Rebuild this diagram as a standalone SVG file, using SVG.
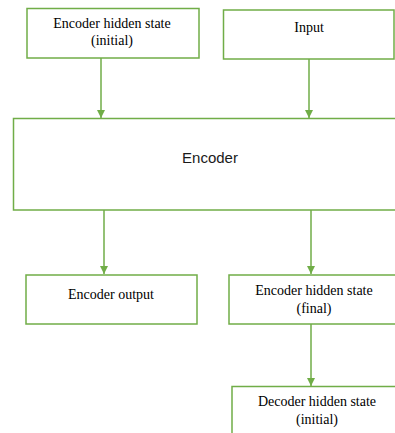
<svg xmlns="http://www.w3.org/2000/svg" width="395" height="433" viewBox="0 0 395 433">
<style>
.box{fill:#ffffff;stroke:#70AD47;stroke-width:1.5}
.conn{stroke:#70AD47;stroke-width:1.5;fill:none}
.t{font-family:"Liberation Serif","Times New Roman",serif;font-size:14px;fill:#000000;text-anchor:middle}
.s{font-family:"Liberation Sans",Arial,sans-serif;font-size:15px;fill:#1a1a1a;text-anchor:middle}
</style>
<defs>
<marker id="arr" viewBox="0 0 10 10" refX="10" refY="5" markerWidth="8" markerHeight="9" markerUnits="userSpaceOnUse" orient="auto">
<path d="M0,0 L10,5 L0,10 z" fill="#70AD47"/>
</marker>
</defs>
<rect width="395" height="433" fill="#ffffff"/>
<g id="connectors">
<line class="conn" x1="101" y1="58" x2="101" y2="118" marker-end="url(#arr)"/>
<line class="conn" x1="309" y1="59" x2="309" y2="118" marker-end="url(#arr)"/>
<line class="conn" x1="104" y1="210" x2="104" y2="274" marker-end="url(#arr)"/>
<line class="conn" x1="311" y1="210" x2="311" y2="274" marker-end="url(#arr)"/>
<line class="conn" x1="311" y1="324" x2="311" y2="386" marker-end="url(#arr)"/>
</g>
<g id="enc-hidden-initial">
<rect class="box" x="27" y="8.5" width="172" height="49.5"/>
<text class="t" x="112" y="28">Encoder hidden state</text>
<text class="t" x="112" y="45">(initial)</text>
</g>
<g id="input">
<rect class="box" x="223.5" y="10" width="170.5" height="49"/>
<text class="t" x="309" y="32">Input</text>
</g>
<g id="encoder">
<rect class="box" x="13.5" y="118.5" width="390" height="91.5"/>
<text class="s" x="210" y="163">Encoder</text>
</g>
<g id="enc-output">
<rect class="box" x="26" y="275" width="171" height="49"/>
<text class="t" x="111" y="299">Encoder output</text>
</g>
<g id="enc-hidden-final">
<rect class="box" x="229" y="275" width="180" height="49"/>
<text class="t" x="314" y="295">Encoder hidden state</text>
<text class="t" x="314" y="313">(final)</text>
</g>
<g id="dec-hidden-initial">
<rect class="box" x="232" y="386.5" width="180" height="60"/>
<text class="t" x="317" y="406">Decoder hidden state</text>
<text class="t" x="317" y="424">(initial)</text>
</g>
</svg>
